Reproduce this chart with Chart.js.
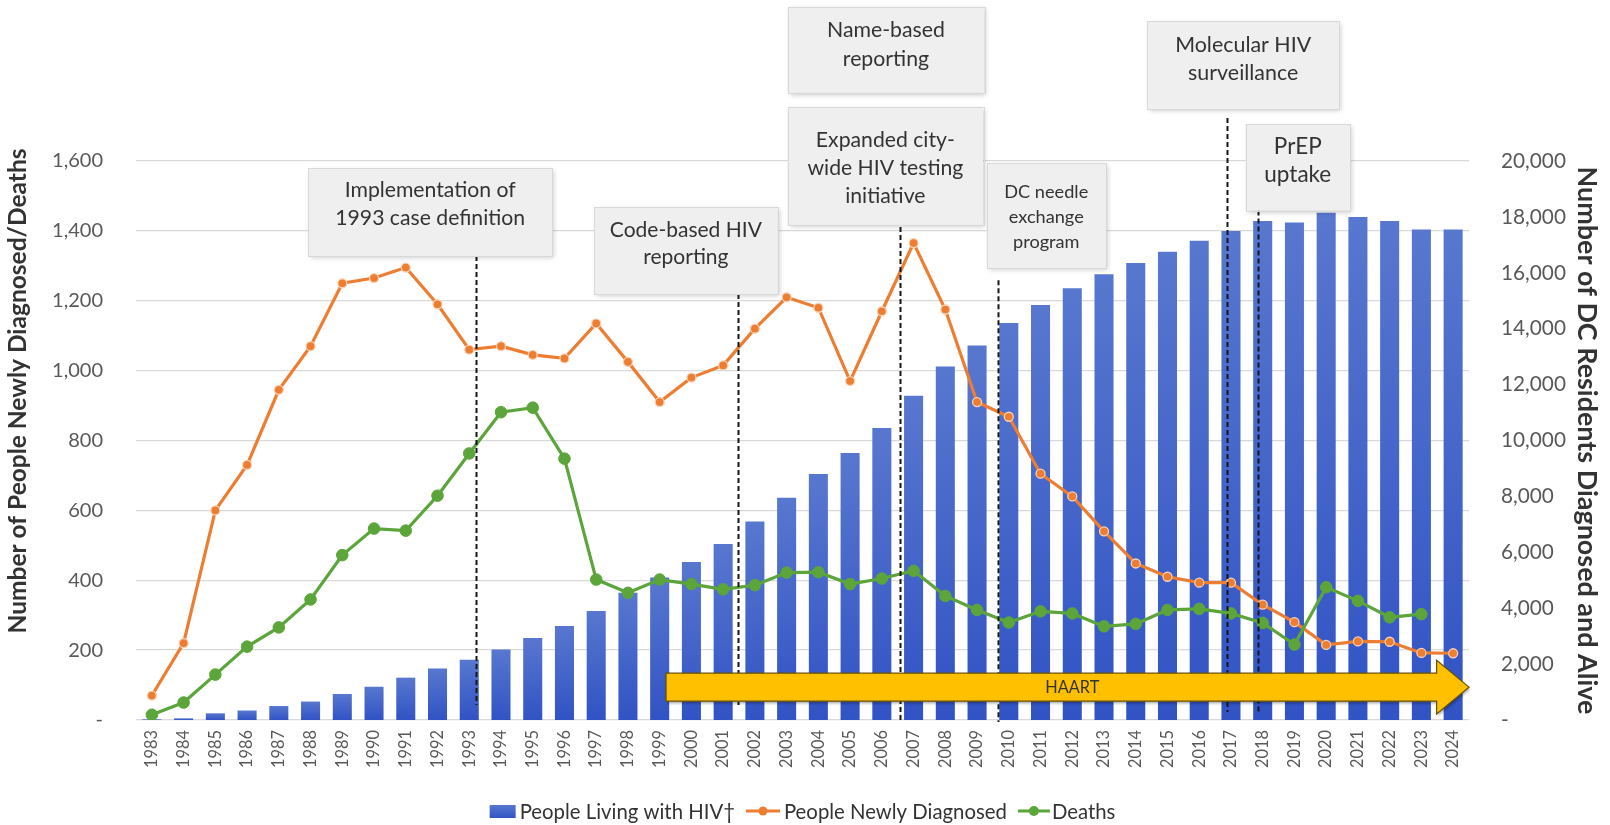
<!DOCTYPE html>
<html lang="en">
<head>
<meta charset="utf-8">
<title>HIV in the District of Columbia, 1983–2024</title>
<script src="https://cdn.jsdelivr.net/npm/chart.js@4.4.1/dist/chart.umd.min.js"></script>
<style>
  html, body { margin: 0; padding: 0; background: #ffffff; }
  #frame { position: relative; width: 1610px; height: 825px; }
  canvas { display: block; }
</style>
</head>
<body>
<div id="frame"><canvas id="hivChart" width="1610" height="825"></canvas></div>
<script>
// ---------------- data ----------------
const years = ['1983','1984','1985','1986','1987','1988','1989','1990','1991','1992',
  '1993','1994','1995','1996','1997','1998','1999','2000','2001','2002','2003','2004',
  '2005','2006','2007','2008','2009','2010','2011','2012','2013','2014','2015','2016',
  '2017','2018','2019','2020','2021','2022','2023','2024'];

// residents diagnosed and alive (right axis)
const livingWithHIV = [20, 60, 240, 340, 500, 660, 930, 1190, 1515, 1840,
  2160, 2520, 2930, 3360, 3900, 4550, 5100, 5650, 6300, 7100, 7950, 8800,
  9550, 10450, 11600, 12650, 13400, 14200, 14850, 15450, 15950, 16350, 16750, 17150,
  17500, 17850, 17800, 18150, 18000, 17850, 17550, 17550];

// newly diagnosed and deaths (left axis)
const newlyDiagnosed = [70, 220, 600, 730, 945, 1070, 1250, 1265, 1295, 1190,
  1060, 1070, 1045, 1035, 1135, 1025, 910, 980, 1015, 1120, 1210, 1180,
  970, 1170, 1365, 1175, 910, 868, 705, 640, 540, 448, 410, 393,
  393, 330, 280, 215, 225, 224, 192, 191];

const deaths = [15, 50, 130, 210, 265, 345, 472, 548, 542, 642,
  763, 881, 894, 748, 402, 364, 402, 389, 374, 386, 422, 423,
  389, 405, 427, 355, 315, 279, 311, 305, 268, 275, 315, 318,
  305, 278, 216, 380, 341, 294, 303, null];

const leftTickValues = [0, 200, 400, 600, 800, 1000, 1200, 1400, 1600];
const rightTickValues = [0, 2000, 4000, 6000, 8000, 10000, 12000, 14000, 16000, 18000, 20000];

const seriesNames = ['People Living with HIV\u2020', 'People Newly Diagnosed', 'Deaths'];
const axisTitles = ['Number of People Newly Diagnosed/Deaths', 'Number of DC Residents Diagnosed and Alive'];

const milestoneTexts = [
  ['Implementation of', '1993 case definition'],
  ['Code-based HIV', 'reporting'],
  ['Name-based', 'reporting'],
  ['Expanded city-', 'wide HIV testing', 'initiative'],
  ['DC needle', 'exchange', 'program'],
  ['Molecular HIV', 'surveillance'],
  ['PrEP', 'uptake']
];
const haartLabel = 'HAART';

// ---------------- styling / layout ----------------
const ORANGE = '#ED7D31';
const GREEN = '#5BA53A';
const BAR_TOP = '#5877cf';
const BAR_BOTTOM = '#3153c4';
const TICK_COLOR = '#595959';
const TEXT_DARK = '#333333';
const FONT = 'Lato';

// Milestone call-outs: box = [x0, x1] in category-index units, [yTop, yBottom] in left-axis units;
// marker = [category index, top value, bottom value] of the dashed guide line.
const milestoneLayout = [
  { box: [4.93, 12.61, 1580, 1328], fitLine: 1, fitWidth: 190, firstLine: 22, lineGap: 28, marker: [10.22, 1328, 43] },
  { box: [13.93, 19.72, 1469, 1219], fitLine: 0, fitWidth: 152, firstLine: 23, lineGap: 27, marker: [18.47, 1219, 43] },
  { box: [20.03, 26.23, 2040, 1795], fitLine: 0, fitWidth: 118, firstLine: 23, lineGap: 29, marker: null },
  { box: [20.03, 26.19, 1755, 1417], fitLine: 1, fitWidth: 156, firstLine: 33, lineGap: 28, marker: [23.57, 1411, -6] },
  { box: [26.30, 30.06, 1593, 1293], fitLine: 0, fitWidth: 84, firstLine: 29, lineGap: 25, marker: [26.65, 1259, -6] },
  { box: [31.36, 37.41, 2001, 1748], fitLine: 0, fitWidth: 136, firstLine: 24, lineGap: 28, marker: [33.87, 1723, 23] },
  { box: [34.46, 37.75, 1706, 1458], fitLine: 1, fitWidth: 67, firstLine: 23, lineGap: 28, marker: [34.86, 1458, 23] }
];

// HAART arrow, category-index units along x and left-axis units along y
const haartArrow = { from: 16.2, headAt: 40.48, to: 41.5, mid: 94, bodyHalf: 40, headHalf: 77, textAt: 29.0 };

function fitSize(text, width, weight) {
  const c = document.createElement('canvas').getContext('2d');
  c.font = (weight || 'normal') + ' 100px ' + FONT;
  return 100 * width / c.measureText(text).width;
}

function fmt(v) {
  return v === 0 ? '-' : Number(v).toLocaleString('en-US');
}

function build() {
  const sizes = {
    leftTick: fitSize('1,600', 51),
    rightTick: fitSize('20,000', 65),
    xTick: fitSize('2000', 38),
    leftTitle: fitSize(axisTitles[0], 485, 'bold'),
    rightTitle: fitSize(axisTitles[1], 548, 'bold'),
    legend: fitSize(seriesNames[1], 223),
    haart: fitSize(haartLabel, 54)
  };

  function barFill(ctx) {
    const chart = ctx.chart;
    if (ctx.type !== 'data' || !chart.chartArea) return BAR_BOTTOM;
    const ys = chart.scales.y2;
    const top = ys.getPixelForValue(ctx.raw);
    const bottom = ys.getPixelForValue(0);
    if (!isFinite(top) || bottom - top < 1) return BAR_BOTTOM;
    const g = chart.ctx.createLinearGradient(0, top, 0, bottom);
    g.addColorStop(0, BAR_TOP);
    g.addColorStop(1, BAR_BOTTOM);
    return g;
  }

  const overlay = {
    id: 'milestones',
    afterDatasetsDraw(chart) {
      const { ctx, scales } = chart;
      const xs = scales.x, ys = scales.y;
      const px = i => xs.getPixelForValue(0) + i * (xs.getPixelForValue(1) - xs.getPixelForValue(0));
      const py = v => ys.getPixelForValue(v);

      // dashed guide lines
      ctx.save();
      ctx.strokeStyle = '#161616';
      ctx.lineWidth = 2;
      ctx.setLineDash([5, 3]);
      milestoneLayout.forEach(m => {
        if (!m.marker) return;
        const x = Math.round(px(m.marker[0])) + 0.5;
        ctx.beginPath();
        ctx.moveTo(x, py(m.marker[1]));
        ctx.lineTo(x, py(m.marker[2]));
        ctx.stroke();
      });
      ctx.restore();

      // HAART arrow
      const a = haartArrow;
      const x0 = px(a.from), xh = px(a.headAt), x1 = px(a.to);
      const ym = py(a.mid);
      const bh = py(a.mid - a.bodyHalf) - ym;
      const hh = py(a.mid - a.headHalf) - ym;
      ctx.save();
      ctx.beginPath();
      ctx.moveTo(x0, ym - bh);
      ctx.lineTo(xh, ym - bh);
      ctx.lineTo(xh, ym - hh);
      ctx.lineTo(x1, ym);
      ctx.lineTo(xh, ym + hh);
      ctx.lineTo(xh, ym + bh);
      ctx.lineTo(x0, ym + bh);
      ctx.closePath();
      ctx.shadowColor = 'rgba(0,0,0,0.35)';
      ctx.shadowBlur = 3;
      ctx.shadowOffsetX = 1;
      ctx.shadowOffsetY = 2;
      ctx.fillStyle = '#FFC000';
      ctx.fill();
      ctx.shadowColor = 'transparent';
      ctx.strokeStyle = '#6b5200';
      ctx.lineWidth = 1.2;
      ctx.stroke();
      ctx.fillStyle = TEXT_DARK;
      ctx.font = 'normal ' + sizes.haart.toFixed(2) + 'px ' + FONT;
      ctx.textAlign = 'center';
      ctx.textBaseline = 'middle';
      ctx.fillText(haartLabel, px(a.textAt), ym + 1);
      ctx.restore();

      // call-out boxes
      milestoneLayout.forEach((m, k) => {
        const lines = milestoneTexts[k];
        const bx0 = px(m.box[0]), bx1 = px(m.box[1]);
        const by0 = py(m.box[2]), by1 = py(m.box[3]);
        ctx.save();
        ctx.shadowColor = 'rgba(0,0,0,0.22)';
        ctx.shadowBlur = 5;
        ctx.shadowOffsetX = 2;
        ctx.shadowOffsetY = 2;
        ctx.fillStyle = '#efefef';
        ctx.fillRect(bx0, by0, bx1 - bx0, by1 - by0);
        ctx.shadowColor = 'transparent';
        ctx.strokeStyle = '#d9d9d9';
        ctx.lineWidth = 1;
        ctx.strokeRect(Math.round(bx0) + 0.5, Math.round(by0) + 0.5, Math.round(bx1 - bx0), Math.round(by1 - by0));
        const fs = fitSize(lines[m.fitLine], m.fitWidth);
        ctx.font = 'normal ' + fs.toFixed(2) + 'px ' + FONT;
        ctx.fillStyle = TEXT_DARK;
        ctx.textAlign = 'center';
        ctx.textBaseline = 'middle';
        const cx = (bx0 + bx1) / 2;
        lines.forEach((t, j) => ctx.fillText(t, cx, by0 + m.firstLine + j * m.lineGap));
        ctx.restore();
      });
    },
    afterDraw(chart) {
      const { ctx, chartArea } = chart;
      // axis titles
      ctx.save();
      ctx.fillStyle = TEXT_DARK;
      ctx.font = 'bold ' + sizes.leftTitle.toFixed(2) + 'px ' + FONT;
      ctx.textAlign = 'center';
      ctx.textBaseline = 'middle';
      ctx.translate(18.5, 391);
      ctx.rotate(-Math.PI / 2);
      ctx.fillText(axisTitles[0], 0, 0);
      ctx.restore();
      ctx.save();
      ctx.fillStyle = TEXT_DARK;
      ctx.font = 'bold ' + sizes.rightTitle.toFixed(2) + 'px ' + FONT;
      ctx.textAlign = 'center';
      ctx.textBaseline = 'middle';
      ctx.translate(1587, (chartArea.top + chartArea.bottom) / 2);
      ctx.rotate(Math.PI / 2);
      ctx.fillText(axisTitles[1], 0, 0);
      ctx.restore();

      // legend
      ctx.save();
      ctx.font = 'normal ' + sizes.legend.toFixed(2) + 'px ' + FONT;
      ctx.textBaseline = 'middle';
      ctx.textAlign = 'left';
      const ds = chart.data.datasets;
      const items = [
        { kind: 'bar', text: ds[2].label, color: BAR_BOTTOM, icon: 26, gapAfterIcon: 4 },
        { kind: 'line', text: ds[0].label, color: ORANGE, icon: 34, gapAfterIcon: 4, r: 4.5 },
        { kind: 'line', text: ds[1].label, color: GREEN, icon: 32, gapAfterIcon: 2, r: 5 }
      ];
      const between = 11;
      let total = 0;
      items.forEach((it, i) => {
        it.tw = ctx.measureText(it.text).width;
        total += it.icon + it.gapAfterIcon + it.tw + (i ? between : 0);
      });
      let x = (chartArea.left + chartArea.right) / 2 - total / 2;
      const y = 811;
      items.forEach((it, i) => {
        if (i) x += between;
        if (it.kind === 'bar') {
          const g = ctx.createLinearGradient(0, y - 6, 0, y + 7);
          g.addColorStop(0, BAR_TOP);
          g.addColorStop(1, BAR_BOTTOM);
          ctx.fillStyle = g;
          ctx.fillRect(x, y - 6, it.icon, 13);
        } else {
          ctx.strokeStyle = it.color;
          ctx.lineWidth = 3;
          ctx.beginPath();
          ctx.moveTo(x, y);
          ctx.lineTo(x + it.icon, y);
          ctx.stroke();
          ctx.fillStyle = it.color;
          ctx.beginPath();
          ctx.arc(x + it.icon / 2, y, it.r, 0, Math.PI * 2);
          ctx.fill();
        }
        x += it.icon + it.gapAfterIcon;
        ctx.fillStyle = TEXT_DARK;
        ctx.fillText(it.text, x, y + 1);
        x += it.tw;
      });
      ctx.restore();
    }
  };

  new Chart(document.getElementById('hivChart'), {
    type: 'bar',
    data: {
      labels: years,
      datasets: [
        {
          type: 'line', label: seriesNames[1], data: newlyDiagnosed, yAxisID: 'y', order: 2,
          borderColor: ORANGE, backgroundColor: ORANGE, borderWidth: 3.2, tension: 0,
          pointRadius: 4.5, pointBackgroundColor: ORANGE, pointBorderColor: '#f9d2b5', pointBorderWidth: 1.3
        },
        {
          type: 'line', label: seriesNames[2], data: deaths, yAxisID: 'y', order: 1,
          borderColor: GREEN, backgroundColor: GREEN, borderWidth: 3.2, tension: 0,
          pointRadius: 5.8, pointBackgroundColor: GREEN, pointBorderColor: GREEN, pointBorderWidth: 1
        },
        {
          type: 'bar', label: seriesNames[0], data: livingWithHIV, yAxisID: 'y2', order: 3,
          backgroundColor: barFill, borderWidth: 0, barPercentage: 0.6, categoryPercentage: 1.0
        }
      ]
    },
    options: {
      responsive: false,
      devicePixelRatio: 1,
      animation: false,
      events: [],
      layout: { padding: { top: 161, left: 0, right: 0, bottom: 0 } },
      plugins: { legend: { display: false }, tooltip: { enabled: false }, title: { display: false } },
      font: { family: FONT },
      scales: {
        x: {
          grid: { display: false, drawTicks: false },
          border: { display: false },
          ticks: {
            autoSkip: false, minRotation: 90, maxRotation: 90, padding: 10,
            color: TICK_COLOR, font: { family: FONT, size: sizes.xTick }
          },
          afterFit(s) { s.height = 105; }
        },
        y: {
          position: 'left', min: 0, max: 1600,
          afterBuildTicks(s) { s.ticks = leftTickValues.map(v => ({ value: v })); },
          grid: { color: '#d9d9d9', lineWidth: 1.3, drawTicks: false },
          border: { display: false },
          ticks: { padding: 33, color: TICK_COLOR, font: { family: FONT, size: sizes.leftTick }, callback: fmt },
          afterFit(s) { s.width = 136; }
        },
        y2: {
          position: 'right', min: 0, max: 20000,
          afterBuildTicks(s) { s.ticks = rightTickValues.map(v => ({ value: v })); },
          grid: { display: false, drawTicks: false },
          border: { display: false },
          ticks: { padding: 32, color: TICK_COLOR, font: { family: FONT, size: sizes.rightTick }, callback: fmt },
          afterFit(s) { s.width = 141; }
        }
      }
    },
    plugins: [overlay]
  });
}

const fontReady = document.fonts && document.fonts.load
  ? Promise.all([document.fonts.load('16px Lato'), document.fonts.load('bold 16px Lato')])
  : Promise.resolve();
fontReady.catch(() => {}).then(build);
</script>
</body>
</html>
